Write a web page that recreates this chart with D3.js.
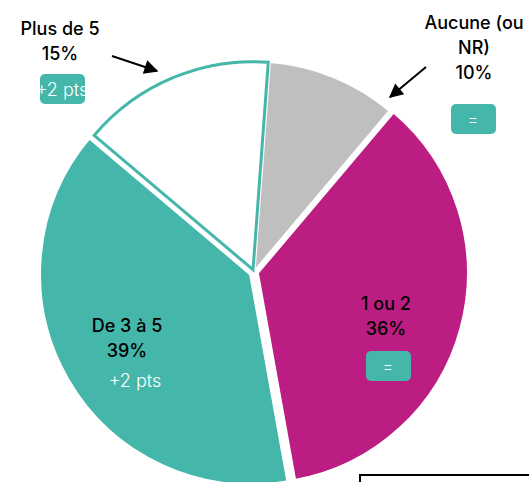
<!DOCTYPE html>
<html>
<head>
<meta charset="utf-8">
<script src="https://d3js.org/d3.v7.min.js"></script>
<style>
    body {margin: 0; background: #fff;}
    svg {display: block; font-family: Inter, Roboto, sans-serif;}
</style>
</head>
<body>
<div id="chart"></div>
<script>
    // values
    var categories = ["Aucune (ou NR)", "1 ou 2", "De 3 à 5", "Plus de 5"];
    var shares = [10, 36, 39, 15];
    var evolutions = ["=", "=", "+2 pts", "+2 pts"];

    var width = 529, height = 482;
    var cx = 254, cy = 272, radius = 211;
    var teal = "#45b6aa";

    var fills = {"Aucune (ou NR)": "#bfbfbf", "1 ou 2": "#bc1d82", "De 3 à 5": teal, "Plus de 5": "#ffffff"};
    var explode = {"Aucune (ou NR)": 0, "1 ou 2": 3.5, "De 3 à 5": 4, "Plus de 5": 2.5};

    var data = categories.map(function(c, i) { return {cat: c, value: shares[i], evo: evolutions[i]}; });

    var svg = d3.select("#chart").append("svg")
        .attr("width", width)
        .attr("height", height);

    var start = 4.2 * Math.PI / 180;
    var pie = d3.pie().sort(null).value(function(d) { return d.value; })
        .startAngle(start).endAngle(start + 2 * Math.PI);
    var arc = d3.arc().innerRadius(0).outerRadius(radius);
    var arcOutlined = d3.arc().innerRadius(0).outerRadius(radius - 3);

    var g = svg.append("g").attr("transform", "translate(" + cx + "," + cy + ")");

    g.selectAll("path")
        .data(pie(data))
        .enter().append("path")
        .attr("transform", function(d) {
            var a = (d.startAngle + d.endAngle) / 2, e = explode[d.data.cat];
            return "translate(" + (Math.sin(a) * e) + "," + (-Math.cos(a) * e) + ")";
        })
        .attr("d", function(d) { return d.data.cat == "Plus de 5" ? arcOutlined(d) : arc(d); })
        .attr("fill", function(d) { return fills[d.data.cat]; })
        .attr("stroke", function(d) { return d.data.cat == "Plus de 5" ? teal : "#fff"; })
        .attr("stroke-width", 3)
        .attr("stroke-linejoin", "miter");

    // labels
    var labels = [
        {i: 3, x: 60, y: 35, lines: ["Plus de 5", "15%"], badge: {x: 40, y: 74, w: 45, h: 30}, evoX: 62, evoY: 96},
        {i: 0, x: 474, y: 29, lines: ["Aucune (ou", "NR)", "10%"], badge: {x: 451, y: 104, w: 45, h: 30}, evoX: 473, evoY: 125},
        {i: 2, x: 127, y: 332, lines: ["De 3 à 5", "39%"], badge: null, evoX: 135, evoY: 387},
        {i: 1, x: 386, y: 310, lines: ["1 ou 2", "36%"], badge: {x: 366, y: 351, w: 45, h: 30}, evoX: 388, evoY: 372}
    ];

    labels.forEach(function(l) {
        var d = data[l.i];
        var t = svg.append("text")
            .attr("text-anchor", "middle")
            .attr("font-size", 18)
            .attr("font-weight", 500)
            .attr("fill", "#000");
        l.lines.forEach(function(s, k) {
            t.append("tspan").attr("x", l.x).attr("y", l.y + k * 25).text(s);
        });
        if (l.badge) {
            svg.append("rect")
                .attr("x", l.badge.x).attr("y", l.badge.y)
                .attr("width", l.badge.w).attr("height", l.badge.h)
                .attr("rx", 5)
                .attr("fill", teal);
        }
        svg.append("text")
            .attr("x", l.evoX).attr("y", l.evoY)
            .attr("text-anchor", "middle")
            .attr("font-size", d.evo == "=" ? 16 : 18)
            .attr("font-weight", 300)
            .attr("fill", "#fff")
            .text(d.evo);
    });

    // arrows
    svg.append("defs").append("marker")
        .attr("id", "head")
        .attr("viewBox", "0 0 10 10")
        .attr("refX", 9).attr("refY", 5)
        .attr("markerWidth", 16).attr("markerHeight", 14)
        .attr("markerUnits", "userSpaceOnUse")
        .attr("orient", "auto")
        .append("path").attr("d", "M0,0L10,5L0,10z").attr("fill", "#000");

    [[112, 56, 157, 71], [426, 67, 390, 97]].forEach(function(a) {
        svg.append("line")
            .attr("x1", a[0]).attr("y1", a[1]).attr("x2", a[2]).attr("y2", a[3])
            .attr("stroke", "#000").attr("stroke-width", 2)
            .attr("marker-end", "url(#head)");
    });

    // box cut off at the bottom right
    svg.append("rect")
        .attr("x", 360).attr("y", 475)
        .attr("width", 200).attr("height", 40)
        .attr("fill", "none")
        .attr("stroke", "#000")
        .attr("stroke-width", 2);
</script>
</body>
</html>
